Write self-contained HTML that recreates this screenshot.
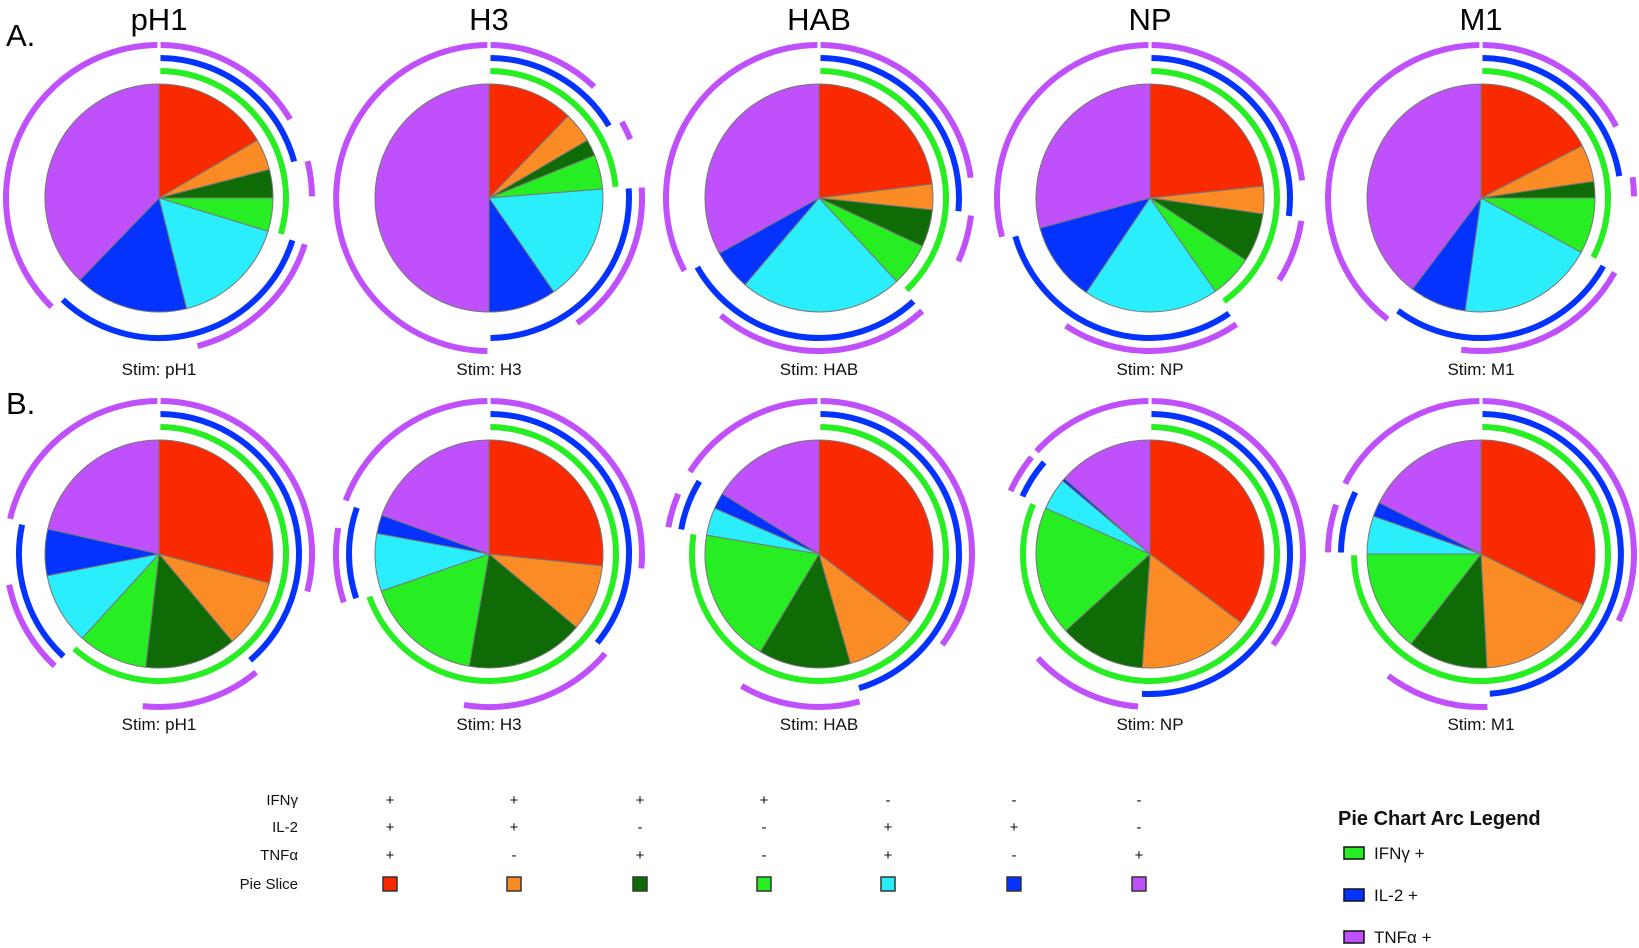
<!DOCTYPE html>
<html><head><meta charset="utf-8"><style>
body{margin:0;background:#fff;}
svg{display:block;}
text{font-family:"Liberation Sans",sans-serif;}
</style></head><body>
<svg id="s" width="1639" height="948" viewBox="0 0 1639 948" xmlns="http://www.w3.org/2000/svg">
<text x="6" y="46" font-size="31">A.</text>
<text x="6" y="414" font-size="31">B.</text>
<g font-size="31" text-anchor="middle">
<text x="159" y="30">pH1</text><text x="489" y="30">H3</text><text x="819" y="30">HAB</text><text x="1150" y="30">NP</text><text x="1481" y="30">M1</text>
</g>
<g font-size="17" text-anchor="middle" fill="#111">
<text x="159" y="375">Stim: pH1</text><text x="489" y="375">Stim: H3</text><text x="819" y="375">Stim: HAB</text><text x="1150" y="375">Stim: NP</text><text x="1481" y="375">Stim: M1</text>
<text x="159" y="730">Stim: pH1</text><text x="489" y="730">Stim: H3</text><text x="819" y="730">Stim: HAB</text><text x="1150" y="730">Stim: NP</text><text x="1481" y="730">Stim: M1</text>
</g>
<g font-size="15" text-anchor="end" fill="#111">
<text x="298" y="805">IFNγ</text><text x="298" y="832">IL-2</text><text x="298" y="860">TNFα</text><text x="298" y="889">Pie Slice</text>
</g>
<g id="tbl" font-size="15" text-anchor="middle" fill="#111"></g>
<text x="1338" y="825" font-size="20" font-weight="bold" fill="#111">Pie Chart Arc Legend</text>
<rect x="1344" y="847" width="20" height="12" fill="#27ee22" stroke="#111" stroke-width="1.5"/>
<text x="1374" y="859" font-size="17" fill="#111">IFNγ +</text>
<rect x="1344" y="889" width="20" height="12" fill="#0433ff" stroke="#111" stroke-width="1.5"/>
<text x="1374" y="901" font-size="17" fill="#111">IL-2 +</text>
<rect x="1344" y="931" width="20" height="12" fill="#bf50fb" stroke="#111" stroke-width="1.5"/>
<text x="1374" y="943" font-size="17" fill="#111">TNFα +</text>
<g id="pies"></g>
</svg>
<script>
var C=["#fa2a00","#fb8c25","#0e6b05","#27ee22","#2aeefc","#0433ff","#bf50fb"];
var IF=[1,1,1,1,0,0,0],IL=[1,1,0,0,1,1,0],TN=[1,0,1,0,1,0,1];
var NS="http://www.w3.org/2000/svg";
var tbl=document.getElementById("tbl");
var cols=[390,514,640,764,888,1014,1139];
var h='';
for(var i=0;i<7;i++){
 h+='<text x="'+cols[i]+'" y="805">'+(IF[i]?'+':'-')+'</text>';
 h+='<text x="'+cols[i]+'" y="832">'+(IL[i]?'+':'-')+'</text>';
 h+='<text x="'+cols[i]+'" y="860">'+(TN[i]?'+':'-')+'</text>';
 h+='<rect x="'+(cols[i]-7)+'" y="877" width="14" height="14" fill="'+C[i]+'" stroke="#333" stroke-width="1.5"/>';
}
tbl.innerHTML=h;
function pt(cx,cy,r,a){var t=a*Math.PI/180;return [cx+r*Math.sin(t),cy-r*Math.cos(t)];}
function wedge(cx,cy,r,a0,a1){var p0=pt(cx,cy,r,a0),p1=pt(cx,cy,r,a1);var l=(a1-a0)>180?1:0;
 return 'M'+cx+','+cy+'L'+p0[0].toFixed(2)+','+p0[1].toFixed(2)+'A'+r+','+r+' 0 '+l+' 1 '+p1[0].toFixed(2)+','+p1[1].toFixed(2)+'Z';}
function arc(cx,cy,r,a0,a1){var p0=pt(cx,cy,r,a0),p1=pt(cx,cy,r,a1);var l=(a1-a0)>180?1:0;
 return 'M'+p0[0].toFixed(2)+','+p0[1].toFixed(2)+'A'+r+','+r+' 0 '+l+' 1 '+p1[0].toFixed(2)+','+p1[1].toFixed(2);}
var P=[
 [159,198,[59.6,75.5,90,107,166,224]],
 [489,198,[44,59.6,68,85.5,145.4,180]],
 [819,198,[83,96,115,137,220.5,241]],
 [1150,198,[84,98,123,145,214,254.7]],
 [1481,198,[62.7,81.6,90,118.5,188,217]],
 [159,554,[104.8,140,186.7,222.4,259,282.7]],
 [489,554,[96,130,190,251,280.4,289.9]],
 [819,554,[127,164,211,279.5,293.7,301.9]],
 [1150,554,[127,183.9,227.7,293.7,309.9,311.5]],
 [1481,554,[116.5,177,217.9,270,289.4,296.8]]
];
var out='';
P.forEach(function(p){
 var cx=p[0],cy=p[1],b=[0].concat(p[2]).concat([360]);
 for(var i=0;i<7;i++){out+='<path d="'+wedge(cx,cy,114,b[i],b[i+1])+'" fill="'+C[i]+'" stroke="#777" stroke-width="1"/>';}
 [[IF,127,"#27ee22"],[IL,140,"#0433ff"],[TN,153,"#bf50fb"]].forEach(function(q){
  var m=q[0],s=-1;
  for(var i=0;i<=7;i++){
   if(i<7&&m[i]){if(s<0)s=b[i];}
   else if(s>=0){var e=b[i];out+='<path d="'+arc(cx,cy,q[1],s+0.6,e-0.6)+'" fill="none" stroke="'+q[2]+'" stroke-width="6"/>';s=-1;}
  }
 });
});
document.getElementById("pies").innerHTML=out;
</script>
</body></html>
